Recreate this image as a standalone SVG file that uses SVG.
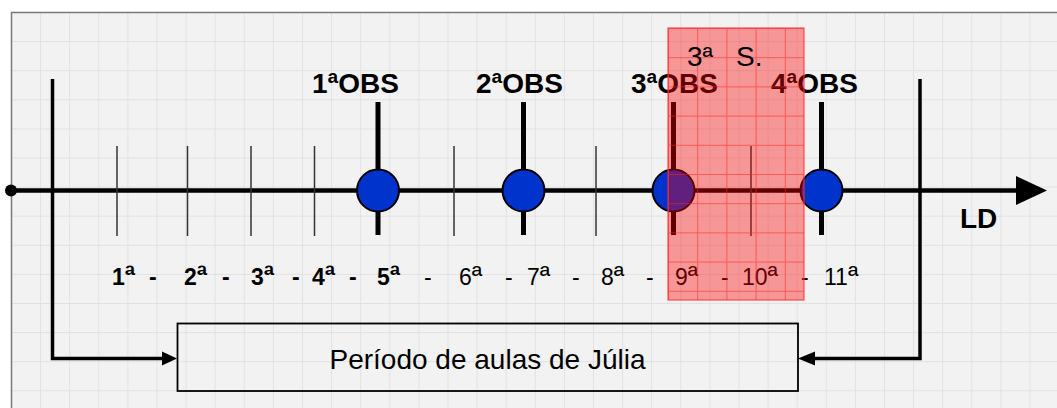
<svg xmlns="http://www.w3.org/2000/svg" width="1057" height="408" viewBox="0 0 1057 408">
<style>
.obs{font-family:"Liberation Sans",Arial,sans-serif;font-weight:bold;font-size:28px;fill:#000}
.lb{font-family:"Liberation Sans",Arial,sans-serif;font-weight:bold;font-size:23px;fill:#000}
.lr{font-family:"Liberation Sans",Arial,sans-serif;font-size:23px;fill:#000}
.big{font-family:"Liberation Sans",Arial,sans-serif;font-size:28px;fill:#000}
.o{font-size:29px}
.tick{stroke:#333;stroke-width:1.5}
.obsline{stroke:#000;stroke-width:5}
.dot{fill:#0033cc;stroke:#000;stroke-width:2}
.conn{fill:none;stroke:#000;stroke-width:3.5}
</style>
<defs>
<pattern id="grid" x="11" y="12" width="29.1" height="29.1" patternUnits="userSpaceOnUse">
<path d="M0.5 0V29.1M0 0.5H29.1" stroke="#e1e1e1" stroke-width="1" fill="none"/>
</pattern>
<pattern id="rgrid" x="668" y="28" width="29.2" height="29.2" patternUnits="userSpaceOnUse">
<path d="M0.5 0V29.2M0 0.5H29.2" stroke="#ff2020" stroke-opacity="0.55" stroke-width="1" fill="none"/>
</pattern>
</defs>
<rect width="1057" height="408" fill="#fff"/>
<rect x="11" y="12" width="1060" height="410" fill="#f2f2f2"/>
<rect x="11" y="12" width="1060" height="410" fill="url(#grid)"/>
<path d="M11 12.5H1057M11.5 12V408" stroke="#7a7a7a" stroke-width="1.5" fill="none"/>

<g id="connectors">
<path class="conn" d="M52.5 79V358.5H163"/>
<polygon points="162,351.5 177,358.5 162,365.5" fill="#000"/>
<path class="conn" d="M920 79V358.5H814"/>
<polygon points="815,351.5 798,358.5 815,365.5" fill="#000"/>
</g>

<g id="axis">
<line x1="11" y1="190.5" x2="1018" y2="190.5" stroke="#000" stroke-width="4.5"/>
<polygon points="1016,176 1047,190.5 1016,205" fill="#000"/>
<circle cx="11" cy="190.5" r="6" fill="#000"/>
<text class="obs" x="960" y="228">LD</text>
</g>

<g id="ticks">
<line class="tick" x1="117" y1="146" x2="117" y2="236"/>
<line class="tick" x1="187.5" y1="146" x2="187.5" y2="236"/>
<line class="tick" x1="251" y1="146" x2="251" y2="236"/>
<line class="tick" x1="314.5" y1="146" x2="314.5" y2="236"/>
<line class="tick" x1="454" y1="146" x2="454" y2="236"/>
<line class="tick" x1="596" y1="146" x2="596" y2="236"/>
<line class="tick" x1="751" y1="146" x2="751" y2="236"/>
</g>

<g id="obs1">
<line class="obsline" x1="378" y1="102" x2="378" y2="235"/>
<circle class="dot" cx="378" cy="190.5" r="21"/>
<text class="obs" x="312" y="93">1<tspan class="o">ª</tspan>OBS</text>
</g>
<g id="obs2">
<line class="obsline" x1="523.5" y1="102" x2="523.5" y2="235"/>
<circle class="dot" cx="523.5" cy="190.5" r="21"/>
<text class="obs" x="476" y="93">2<tspan class="o">ª</tspan>OBS</text>
</g>
<g id="obs3">
<line class="obsline" x1="673.5" y1="102" x2="673.5" y2="235"/>
<circle class="dot" cx="673.5" cy="190.5" r="21"/>
<text class="obs" x="631" y="93">3<tspan class="o">ª</tspan>OBS</text>
</g>
<g id="obs4">
<line class="obsline" x1="821.5" y1="102" x2="821.5" y2="235"/>
<circle class="dot" cx="821.5" cy="190.5" r="21"/>
<text class="obs" x="771" y="93">4<tspan class="o">ª</tspan>OBS</text>
</g>

<g id="labels">
<text class="lb" x="112" y="285">1<tspan font-size="28">ª</tspan></text>
<text class="lb" x="149" y="285">-</text>
<text class="lb" x="184" y="285">2<tspan font-size="28">ª</tspan></text>
<text class="lb" x="222" y="285">-</text>
<text class="lb" x="251" y="285">3<tspan font-size="28">ª</tspan></text>
<text class="lb" x="292" y="285">-</text>
<text class="lb" x="312" y="285">4<tspan font-size="28">ª</tspan></text>
<text class="lb" x="349" y="285">-</text>
<text class="lb" x="377" y="285">5<tspan font-size="28">ª</tspan></text>
<text class="lr" x="424" y="285">-</text>
<text class="lr" x="459" y="285">6<tspan font-size="28">ª</tspan></text>
<text class="lr" x="505" y="285">-</text>
<text class="lr" x="527" y="285">7<tspan font-size="28">ª</tspan></text>
<text class="lr" x="572" y="285">-</text>
<text class="lr" x="601" y="285">8<tspan font-size="28">ª</tspan></text>
<text class="lr" x="646" y="285">-</text>
<text class="lr" x="675" y="285">9<tspan font-size="28">ª</tspan></text>
<text class="lr" x="721" y="285">-</text>
<text class="lr" x="742" y="285">10<tspan font-size="28">ª</tspan></text>
<text class="lr" x="801" y="285">-</text>
<text class="lr" x="824" y="285">11<tspan font-size="28">ª</tspan></text>
</g>

<g id="periodo">
<rect x="177.5" y="323.5" width="620.5" height="67.5" fill="none" stroke="#000" stroke-width="1.8"/>
<text class="big" x="487.5" y="369" text-anchor="middle" font-size="29.3">Período de aulas de Júlia</text>
</g>

<g id="semestre3">
<rect x="668" y="28" width="136" height="272" fill="#ff0000" fill-opacity="0.38"/>
<rect x="668" y="28" width="136" height="272" fill="url(#rgrid)"/>
<rect x="668" y="28" width="136" height="272" fill="none" stroke="#ff3030" stroke-width="1"/>
<text class="big" x="687" y="66">3ª <tspan x="736">S.</tspan></text>
</g>
</svg>
